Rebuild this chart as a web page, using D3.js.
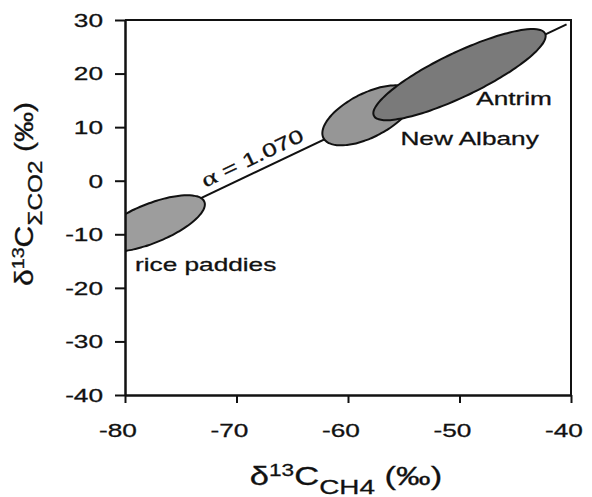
<!DOCTYPE html>
<html>
<head>
<meta charset="utf-8">
<script src="https://cdn.jsdelivr.net/npm/d3@7"></script>
<style>
  body { margin: 0; background: #fff; }
  text { font-family: "Liberation Sans", Arial, sans-serif; fill: #111; stroke: #111; stroke-width: 0.3; }
</style>
</head>
<body>
<div id="chart"></div>
<script>
// Axis ticks
const xTicks = [-80, -70, -60, -50, -40];
const yTicks = [30, 20, 10, 0, -10, -20, -30, -40];

// Fractionation line (alpha = 1.070)
const lineX = [-80, -40.4];
const lineY = [-10.0, 29.2];

// Fields: centre plus two conjugate half-axes, all in per-mil units
const fieldNames = ["rice paddies", "New Albany", "Antrim"];
const centerX = [-77.7, -58.2, -50.0];
const centerY = [-8.0, 12.2, 19.8];
const majorDX = [4.82, 4.0, 7.68];
const majorDY = [4.06, 4.24, 7.66];
const minorDX = [0.65, 0.9, 0.85];
const minorDY = [-3.38, -3.66, -3.70];
const fieldColors = ["#9d9d9d", "#969696", "#7a7a7a"];

// Label anchors (left end of baseline)
const labelX = [-79.1, -55.3, -48.5];
const labelY = [-16.9, 6.7, 14.1];

const W = 592, H = 497;
const margin = { top: 20, right: 21, bottom: 102, left: 125 };
const stretch = 1.38; // the original font is set wide

const svg = d3.select("#chart").append("svg")
  .attr("width", W).attr("height", H);

const x = d3.scaleLinear().domain([-80, -40]).range([margin.left, W - margin.right]);
const y = d3.scaleLinear().domain([-40, 30]).range([H - margin.bottom, margin.top]);

svg.append("clipPath").attr("id", "plotClip")
  .append("rect")
  .attr("x", x(-80)).attr("y", y(30))
  .attr("width", x(-40) - x(-80)).attr("height", y(-40) - y(30));

const plot = svg.append("g").attr("clip-path", "url(#plotClip)");

// line
plot.append("path")
  .attr("fill", "none").attr("stroke", "#111").attr("stroke-width", 2)
  .attr("d", d3.line().x(d => x(d[0])).y(d => y(d[1]))(d3.zip(lineX, lineY)));

// ellipses
const angles = d3.range(0, 361, 4).map(a => a * Math.PI / 180);
fieldNames.forEach((name, i) => {
  const pts = angles.map(t => [
    x(centerX[i] + majorDX[i] * Math.cos(t) + minorDX[i] * Math.sin(t)),
    y(centerY[i] + majorDY[i] * Math.cos(t) + minorDY[i] * Math.sin(t))
  ]);
  plot.append("path")
    .attr("d", d3.line().curve(d3.curveCardinalClosed)(pts.slice(0, -1)))
    .attr("fill", fieldColors[i])
    .attr("stroke", "#111").attr("stroke-width", 2);
});

// frame (top and right)
svg.append("path")
  .attr("fill", "none").attr("stroke", "#111").attr("stroke-width", 2)
  .attr("d", `M${x(-80)},${y(30)}H${x(-40)}V${y(-40)}`);

// axes
const xAxis = svg.append("g")
  .attr("transform", `translate(0,${y(-40)})`)
  .call(d3.axisBottom(x).tickValues(xTicks).tickSize(8).tickSizeOuter(0));
const yAxis = svg.append("g")
  .attr("transform", `translate(${x(-80)},0)`)
  .call(d3.axisLeft(y).tickValues(yTicks).tickSize(10).tickSizeOuter(0));

[xAxis, yAxis].forEach(g => {
  g.select(".domain").attr("stroke", "#111").attr("stroke-width", 2.5);
  g.selectAll(".tick line").attr("stroke", "#111").attr("stroke-width", 2);
  g.selectAll(".tick text").remove();
});

// tick labels, drawn wide like the original
xTicks.forEach(v => {
  svg.append("text")
    .attr("transform", `translate(${x(v) - 7},437) scale(${stretch},1)`)
    .attr("text-anchor", "middle").attr("font-size", 19)
    .text(String(v));
});
yTicks.forEach(v => {
  svg.append("text")
    .attr("transform", `translate(103,${y(v) + 6.8}) scale(${stretch},1)`)
    .attr("text-anchor", "end").attr("font-size", 19)
    .text(String(v));
});

// field labels
fieldNames.forEach((name, i) => {
  svg.append("text")
    .attr("transform", `translate(${x(labelX[i])},${y(labelY[i])}) scale(${stretch},1)`)
    .attr("font-size", 19)
    .text(name);
});

// alpha label along the line
const ang = Math.atan2(y(lineY[1]) - y(lineY[0]), x(lineX[1]) - x(lineX[0])) * 180 / Math.PI;
const alpha = svg.append("text")
  .attr("transform", `translate(${x(-72.8)},${y(-1.3)}) rotate(${ang}) scale(${stretch},1)`)
  .attr("font-size", 19);
alpha.append("tspan").attr("font-family", "Liberation Serif").attr("font-size", 21).text("α");
alpha.append("tspan").text(" = 1.070");

// axis titles
function title(g, sub) {
  g.append("tspan").text("δ");
  g.append("tspan").attr("font-size", 17).attr("dy", -9).text("13");
  g.append("tspan").attr("dy", 9).text("C");
  g.append("tspan").attr("font-size", 21).attr("dy", 9).text(sub);
  g.append("tspan").attr("dy", -9).text(" (‰)");
}
const xt = svg.append("text")
  .attr("transform", `translate(346,485) scale(1.33,1)`)
  .attr("text-anchor", "middle").attr("font-size", 26);
title(xt, "CH4");

const yt = svg.append("text")
  .attr("transform", `translate(33,194) rotate(-90) scale(1.16,1)`)
  .attr("text-anchor", "middle").attr("font-size", 26);
title(yt, "ΣCO2");
</script>
</body>
</html>
